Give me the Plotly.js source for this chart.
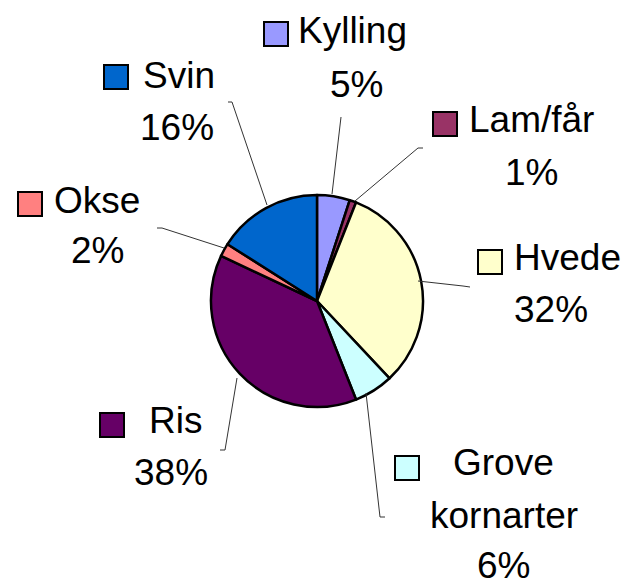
<!DOCTYPE html>
<html>
<head>
<meta charset="utf-8">
<script src="https://cdn.plot.ly/plotly-3.0.1.min.js"></script>
<style>html,body{margin:0;padding:0;background:#fff;}#chart{width:623px;height:581px;}</style>
</head>
<body>
<div id="chart"></div>
<script>
// Data (clockwise from 12 o'clock)
var categories = ["Kylling", "Lam/får", "Hvede", "Grove<br>kornarter", "Ris", "Okse", "Svin"];
var shares = [5, 1, 32, 6, 38, 2, 16];
var colors = ["#9999FF", "#993366", "#FFFFCC", "#CCFFFF", "#660066", "#FF8080", "#0066CC"];

var W = 623, H = 581;
function px(x) { return x / W; }
function py(y) { return 1 - y / H; }

// Label layout (pixel positions): key square centre, name anchor, percent centre, leader path
var labelPos = [
  {key: [276, 34], name: [296, 43], nameAnchor: "left", pct: [356, 97], leader: [[341, 117], [332, 194]]},
  {key: [445, 124], name: [467, 132], nameAnchor: "left", pct: [531, 185], leader: [[423, 148], [418, 148], [355, 201]]},
  {key: [490, 262], name: [512, 270], nameAnchor: "left", pct: [551, 322], leader: [[470, 287], [463, 286], [418, 281]]},
  {key: [407, 468], name: [503, 475], nameAnchor: "center", pct: [503, 578], leader: [[385, 517], [380, 517], [366, 393]], line2: [504, 528]},
  {key: [112, 425], name: [147, 433], nameAnchor: "left", pct: [171, 485], leader: [[220, 450], [225, 450], [237, 378]]},
  {key: [30, 204], name: [52, 213], nameAnchor: "left", pct: [97, 263], leader: [[157, 228], [162, 228], [224, 248]]},
  {key: [116, 77], name: [141, 88], nameAnchor: "left", pct: [177, 140], leader: [[228, 102], [232, 102], [267, 205]]}
];

var FS = 37;
var FONT = {family: "Liberation Sans, Arial, sans-serif", size: FS, color: "#000"};
var off = 0.3465 * FS; // baseline -> middle of text box

var total = shares.reduce(function(a, b) { return a + b; }, 0);
var annotations = [];
var shapes = [];

categories.forEach(function(cat, i) {
  var p = labelPos[i];
  var pctText = Math.round(shares[i] / total * 100) + "%";
  // key square
  annotations.push({
    xref: "paper", yref: "paper", x: px(p.key[0]), y: py(p.key[1]),
    xanchor: "center", yanchor: "middle", text: " ", showarrow: false,
    width: 22, height: 22, bgcolor: colors[i], bordercolor: "#000", borderwidth: 2, borderpad: 0,
    font: {size: 4}
  });
  var lines = cat.split("<br>");
  annotations.push({
    xref: "paper", yref: "paper", x: px(p.name[0]), y: py(p.name[1] - off),
    xanchor: p.nameAnchor, yanchor: "middle", text: lines[0], showarrow: false, font: FONT
  });
  if (lines.length > 1) {
    annotations.push({
      xref: "paper", yref: "paper", x: px(p.line2[0]), y: py(p.line2[1] - off),
      xanchor: "center", yanchor: "middle", text: lines[1], showarrow: false, font: FONT
    });
  }
  annotations.push({
    xref: "paper", yref: "paper", x: px(p.pct[0]), y: py(p.pct[1] - off),
    xanchor: "center", yanchor: "middle", text: pctText, showarrow: false, font: FONT
  });
  var path = p.leader.map(function(pt, j) {
    return (j === 0 ? "M" : "L") + px(pt[0]) + "," + py(pt[1]);
  }).join(" ");
  shapes.push({type: "path", xref: "paper", yref: "paper", path: path, line: {color: "#333", width: 1}});
});

var cx = 317, cy = 301, r = 106;
var trace = {
  type: "pie",
  labels: categories,
  values: shares,
  sort: false,
  direction: "clockwise",
  rotation: 0,
  textinfo: "none",
  hoverinfo: "label+percent",
  marker: {colors: colors, line: {color: "#000", width: 2.5}},
  domain: {x: [px(cx - r), px(cx + r)], y: [py(cy + r), py(cy - r)]},
  showlegend: false
};

var layout = {
  width: W, height: H,
  margin: {l: 0, r: 0, t: 0, b: 0},
  paper_bgcolor: "#fff",
  showlegend: false,
  annotations: annotations,
  shapes: shapes
};

Plotly.newPlot("chart", [trace], layout, {displayModeBar: false, staticPlot: true});
</script>
</body>
</html>
